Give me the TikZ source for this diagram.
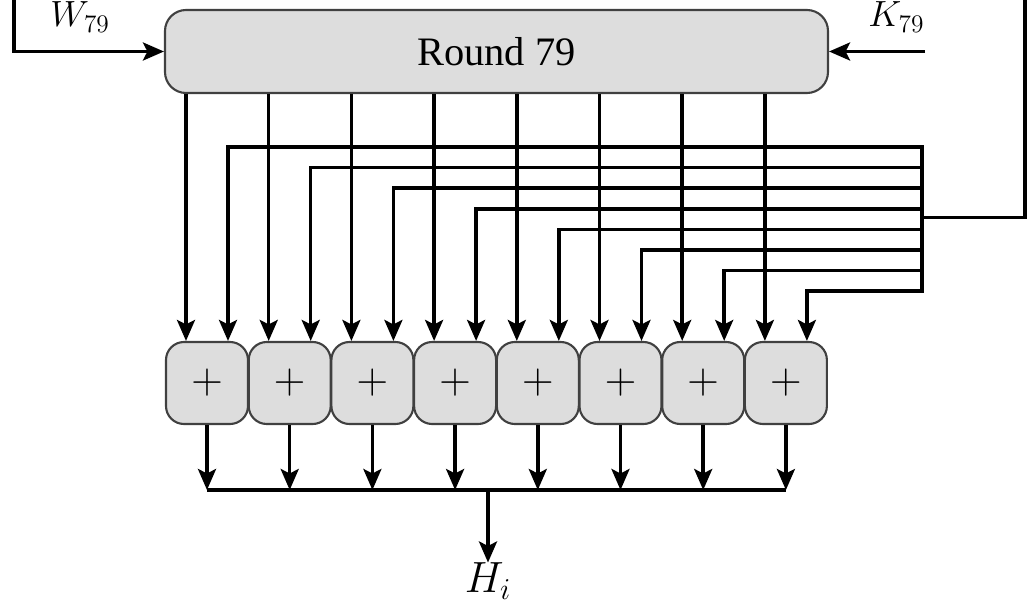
\documentclass[tikz,border=0pt]{standalone}
\usepackage{fontspec}
\setmainfont{Liberation Serif}
\usetikzlibrary{arrows.meta, positioning, calc}
\definecolor{boxgray}{RGB}{221, 221, 221}
\definecolor{edgegray}{RGB}{64, 64, 64}

\begin{document}
\begin{tikzpicture}[
    wire/.style={line width=2pt},
    arr/.style={wire, -{Stealth[length=0.42cm, width=0.36cm, inset=0.09cm]}},
    roundbox/.style={draw=edgegray, line width=1.2pt, fill=boxgray, rounded corners=0.42cm,
      minimum width=13.26cm, minimum height=1.66cm, font=\fontsize{23}{27}\selectfont},
    addbox/.style={draw=edgegray, line width=1.2pt, fill=boxgray, rounded corners=0.36cm,
      minimum width=1.64cm, minimum height=1.64cm, inner sep=0pt, font=\fontsize{24}{28}\selectfont},
    lbl/.style={font=\fontsize{22}{26}\selectfont, inner sep=0pt}
  ]
  \useasboundingbox (0,0) rectangle (20.58,-12.1);

  % Round block and the adders
  \node[roundbox] (round) at (9.93,-1.03) {Round 79};
  \foreach \i in {1,...,8} {
    \node[addbox] (p\i) at ({4.14+1.654*(\i-1)},-7.66) {$+$};
    \coordinate (a\i) at ([xshift=-0.42cm]p\i.north);
    \coordinate (b\i) at ([xshift=0.42cm]p\i.north);
  }

  % Inputs W and K
  \coordinate (wtop) at (0.28,0);
  \coordinate (kin) at (18.5,-1.03);
  \draw[arr] (wtop) |- (round.west);
  \draw[arr] (kin) -- (round.east);
  \node[lbl, anchor=base west] (wlbl) at (1.0,-0.54) {$W_{79}$};
  \node[lbl, anchor=base west] (klbl) at (17.36,-0.54) {$K_{79}$};

  % Round outputs into the adders
  \foreach \i in {1,...,8} {
    \draw[arr] (round.south -| a\i) -- (a\i);
  }

  % Feedback bus
  \coordinate (feedtop) at (20.5,0);
  \coordinate (busmid) at (18.44,-4.35);
  \foreach \i in {1,...,8} {
    \coordinate (bus\i) at (18.44,{-2.94-0.412*(\i-1)});
    \draw[arr] (bus\i) -| (b\i);
  }
  \draw[wire, line cap=rect] (bus1) -- (bus8);
  \draw[wire] (feedtop) |- (busmid);

  % Collect the sums
  \coordinate (collect) at (0,-9.8);
  \foreach \i in {1,...,8} {
    \draw[arr] (p\i.south) -- (p\i.south |- collect);
  }
  \draw[wire] (p1.south |- collect) -- (p8.south |- collect);
  \coordinate (hmid) at (9.76,-9.8);
  \node[lbl, anchor=north, font=\fontsize{24}{28}\selectfont] (hout) at (9.76,-11.25) {$H_i$};
  \draw[arr] (hmid) -- (hout.north);
\end{tikzpicture}
\end{document}
